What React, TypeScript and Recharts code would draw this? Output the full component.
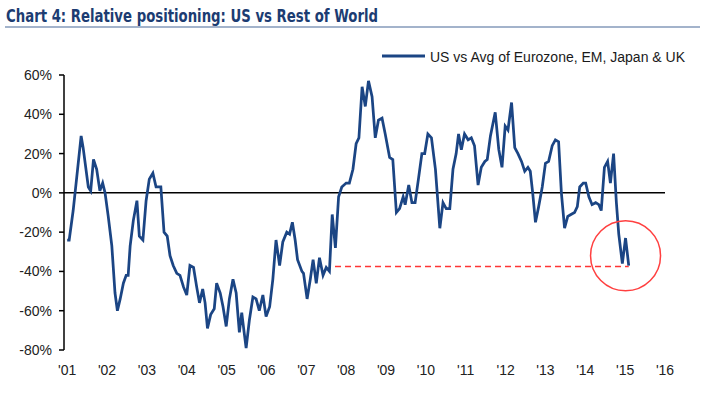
import React from 'react';
import { LineChart, Line, XAxis, YAxis, ReferenceLine, ReferenceDot } from 'recharts';

const title = 'Chart 4: Relative positioning: US vs Rest of World';
const seriesName = 'US vs Avg of Eurozone, EM, Japan & UK';

// decimal years
const dates = [
  2001.00, 2001.05, 2001.15, 2001.24, 2001.35, 2001.40, 2001.53, 2001.59, 2001.66, 2001.74,
  2001.82, 2001.89, 2001.95, 2002.03, 2002.12, 2002.20, 2002.26, 2002.33, 2002.41, 2002.48,
  2002.53, 2002.58, 2002.66, 2002.75, 2002.81, 2002.90, 2002.98, 2003.06, 2003.15, 2003.23,
  2003.35, 2003.43, 2003.51, 2003.58, 2003.66, 2003.75, 2003.83, 2003.92, 2004.00, 2004.08,
  2004.17, 2004.25, 2004.32, 2004.40, 2004.46, 2004.52, 2004.60, 2004.69, 2004.75, 2004.84,
  2004.91, 2004.99, 2005.07, 2005.16, 2005.24, 2005.32, 2005.38, 2005.44, 2005.49, 2005.57,
  2005.66, 2005.74, 2005.82, 2005.91, 2005.99, 2006.08, 2006.16, 2006.24, 2006.33, 2006.41,
  2006.51, 2006.58, 2006.65, 2006.72, 2006.78, 2006.89, 2006.93, 2007.02, 2007.10, 2007.17,
  2007.25, 2007.33, 2007.42, 2007.50, 2007.58, 2007.65, 2007.73, 2007.81, 2007.89, 2008.00,
  2008.08, 2008.17, 2008.25, 2008.32, 2008.40, 2008.48, 2008.56, 2008.65, 2008.73, 2008.81,
  2008.90, 2008.98, 2009.09, 2009.17, 2009.26, 2009.34, 2009.43, 2009.48, 2009.57, 2009.65,
  2009.73, 2009.82, 2009.90, 2009.97, 2010.05, 2010.14, 2010.24, 2010.35, 2010.43, 2010.51,
  2010.60, 2010.68, 2010.76, 2010.82, 2010.89, 2010.97, 2011.06, 2011.14, 2011.22, 2011.31,
  2011.39, 2011.48, 2011.54, 2011.62, 2011.74, 2011.83, 2011.91, 2011.99, 2012.06, 2012.15,
  2012.23, 2012.31, 2012.40, 2012.48, 2012.56, 2012.62, 2012.68, 2012.75, 2012.83, 2012.92,
  2013.00, 2013.08, 2013.17, 2013.25, 2013.33, 2013.40, 2013.48, 2013.56, 2013.64, 2013.73,
  2013.80, 2013.86, 2013.95, 2014.01, 2014.09, 2014.17, 2014.26, 2014.34, 2014.40, 2014.48,
  2014.56, 2014.63, 2014.71, 2014.78, 2014.84, 2014.93, 2015.01, 2015.09,
];

const values = [
  -24, -24, -9, 8, 29, 23, 3, 1, 17, 12,
  1, 5, 0, -12, -27, -51, -60, -54, -46, -42,
  -42, -27, -14, -4, -22, -24, -4, 7, 10, 3,
  3, -20, -22, -32, -37, -41, -42, -48, -52, -37,
  -38, -48, -56, -49, -56, -69, -62, -59, -46, -51,
  -58, -68, -54, -44, -51, -71, -61, -71, -79, -65,
  -53, -54, -60, -52, -63, -58, -44, -24, -37, -25,
  -20, -21, -15, -24, -34, -40, -41, -54, -44, -34,
  -46, -33, -42, -38, -40, -11, -28, -2, 3, 5,
  5, 12, 25, 28, 54, 44, 57, 49, 28, 37,
  38, 30, 18, 17, -10, -8, -2, -6, 4, -5,
  -5, 8, 20, 20, 30, 28, 12, -18, -5, -8,
  -8, 12, 20, 30, 22, 30, 27, 28, 24, 4,
  13, 16, 17, 29, 41, 22, 13, 34, 32, 46,
  23, 20, 16, 11, 13, 11, 0, -15, -7, 3,
  15, 16, 24, 27, 26, 0, -18, -12, -11, -10,
  -7, 3, 5, 5, -2, -6, -5, -6, -9, 13,
  16, 5, 20, -5, -21, -36, -23, -37,
];

const yearTicks = [2001, 2002, 2003, 2004, 2005, 2006, 2007, 2008, 2009, 2010, 2011, 2012, 2013, 2014, 2015, 2016];
const pctTicks = [-80, -60, -40, -20, 0, 20, 40, 60];

// red annotations: latest level carried back to late 2007, circle round the latest readings
const markLevel = -37.5;
const markFrom = 2007.72;
const markTo = 2015.09;
const circleAt = { x: 2015.01, y: -32 };

const data = dates.map((t, i) => ({ t, v: values[i] }));

const NAVY = '#1b4584';
const FONT = "'Liberation Sans', Arial, sans-serif";

export default function App() {
  return (
    <div style={{ position: 'absolute', left: 0, top: 0, width: 709, height: 396, background: '#fff' }}>
      <LineChart width={709} height={396} data={data} margin={{ top: 75, right: 44, bottom: 16, left: 0 }}>
        <XAxis
          dataKey="t"
          type="number"
          domain={[2000.92, 2016]}
          ticks={yearTicks}
          interval={0}
          tickFormatter={(y) => "'" + String(y).slice(2)}
          axisLine={false}
          tickLine={false}
          tickSize={0}
          tickMargin={15}
          height={30}
          tick={{ fontSize: 14, fill: '#222', fontFamily: FONT }}
        />
        <YAxis
          type="number"
          domain={[-80, 60]}
          ticks={pctTicks}
          interval={0}
          tickFormatter={(v) => `${v}%`}
          width={64}
          axisLine={{ stroke: '#000', strokeWidth: 1.5 }}
          tickLine={{ stroke: '#000', strokeWidth: 1.5 }}
          tickSize={5}
          tickMargin={7}
          tick={{ fontSize: 14, fill: '#222', fontFamily: FONT }}
        />
        <ReferenceLine y={0} stroke="#000" strokeWidth={1.5} />
        <ReferenceLine
          segment={[{ x: markFrom, y: markLevel }, { x: markTo, y: markLevel }]}
          stroke="#ff3535"
          strokeWidth={1.5}
          strokeDasharray="6 4"
        />
        <Line
          type="linear"
          dataKey="v"
          name={seriesName}
          stroke={NAVY}
          strokeWidth={2.75}
          dot={false}
          isAnimationActive={false}
        />
        <ReferenceDot x={circleAt.x} y={circleAt.y} r={35} fill="none" stroke="#ff4040" strokeWidth={1.5} />
      </LineChart>
      <svg width={709} height={70} style={{ position: 'absolute', left: 0, top: 0, pointerEvents: 'none' }}>
        <text
          x={6}
          y={22}
          fontSize={17}
          fontWeight="bold"
          fill="#1c3c72"
          fontFamily="'Liberation Sans Narrow', 'DejaVu Sans Condensed', Arial, sans-serif"
          textLength={372}
          lengthAdjust="spacingAndGlyphs"
        >
          {title}
        </text>
        <line x1={5} x2={700} y1={27} y2={27} stroke="#a3b3cb" strokeWidth={2} />
        <line x1={382} x2={425} y1={56} y2={56} stroke={NAVY} strokeWidth={3} />
        <text x={430} y={61.5} fontSize={14} fill="#1a1a1a" fontFamily={FONT}>
          {seriesName}
        </text>
      </svg>
    </div>
  );
}
